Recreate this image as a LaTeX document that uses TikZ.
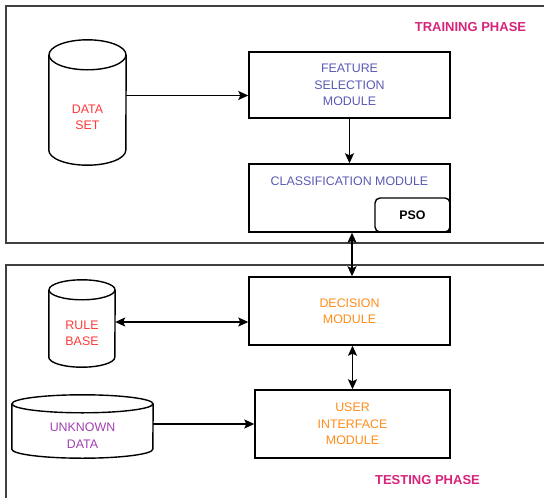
\documentclass[tikz,border=0pt]{standalone}
\usepackage{fontspec}
\setmainfont{Liberation Sans}
\usepackage{xcolor}
\usepackage{tikz}
\usetikzlibrary{arrows.meta,positioning,calc}

\definecolor{phasecol}{HTML}{D6247A}
\definecolor{bluetxt}{HTML}{5A5AB4}
\definecolor{redtxt}{HTML}{FF3838}
\definecolor{orangetxt}{HTML}{FF8C1A}
\definecolor{purpletxt}{HTML}{A040B0}

\tikzset{
    frame/.style={draw=black!75,line width=1.4pt},
    module/.style={draw,line width=1.4pt,minimum width=201pt,minimum height=68pt,
        align=center,inner sep=0pt,font=\fontsize{12.4}{16.5}\selectfont},
    store/.style={inner sep=0pt,align=center,font=\fontsize{12.4}{16.5}\selectfont},
    cyl/.style={line width=1.4pt},
    psobox/.style={draw,line width=1.4pt,rounded corners=5pt,minimum width=75pt,
        minimum height=34pt,font=\fontsize{12.4}{14}\selectfont\bfseries},
    phase/.style={text=phasecol,font=\fontsize{13}{15}\selectfont\bfseries},
    link/.style={line width=1.4pt,>={Stealth[length=10pt,width=9pt,inset=2pt]}}
}

\begin{document}
\begin{tikzpicture}[x=1pt,y=1pt]
\useasboundingbox (0,0) rectangle (544,-498);
\clip (0,0) rectangle (544,-498);

% Phase frames
\draw[frame] (6,-6) rectangle (560,-243);
\draw[frame] (6,-265) rectangle (560,-510);
\node[phase] (train) at (470.5,-27) {TRAINING PHASE};
\node[phase] (test) at (427.5,-480) {TESTING PHASE};

% Stores (body of each cylinder)
\node[store,text=redtxt,minimum width=77pt,minimum height=95pt] (ds) at (87.5,-117.5) {DATA\\SET};
\node[store,text=redtxt,minimum width=66pt,minimum height=67pt] (rb) at (82,-333.5) {RULE\\BASE};
\node[store,text=purpletxt,minimum width=141pt,minimum height=45pt] (ud) at (82.5,-435.5) {UNKNOWN\\DATA};
\foreach \s/\w/\r in {ds/38.5/15, rb/33/10, ud/70.5/9} {
    \draw[cyl] ($(\s.north west)+(0,\r)$) -- ($(\s.south west)+(0,\r)$)
        arc[start angle=180,end angle=360,x radius=\w pt,y radius=\r pt]
        -- ($(\s.north east)+(0,\r)$);
    \draw[cyl] ($(\s.north)+(0,\r)$) ellipse[x radius=\w pt,y radius=\r pt];
}

% Modules
\node[module,text=bluetxt,minimum height=66pt] (fs) at (349.5,-85) {FEATURE\\SELECTION\\MODULE};
\node[module] (cm) at (349.5,-198) {};
\node[store,text=bluetxt] (cmtext) at ($(cm.north)+(0,-18)$) {CLASSIFICATION MODULE};
\node[psobox,anchor=south east] (pso) at (cm.south east) {PSO};
\node[module,text=orangetxt] (dm) at (349.5,-311) {DECISION\\MODULE};
\node[module,text=orangetxt,minimum width=195pt] (ui) at (352.5,-424) {USER\\INTERFACE\\MODULE};

% Connectors
\draw[link,->] ([yshift=22pt]ds.east) -- ([yshift=22pt]ds.east -| fs.west);
\draw[link,->] (fs) -- (cm);
\draw[link,<->] ([xshift=2.5pt]cm.south) -- ([xshift=2.5pt]dm.north);
\draw[link,<->] ([yshift=11.5pt]rb.east) -- ([yshift=11.5pt]rb.east -| dm.west);
\draw[link,<->] (ui.north |- dm.south) -- (ui.north);
\draw[link,->] (ud.east |- ui.west) -- (ui.west);
\end{tikzpicture}
\end{document}
